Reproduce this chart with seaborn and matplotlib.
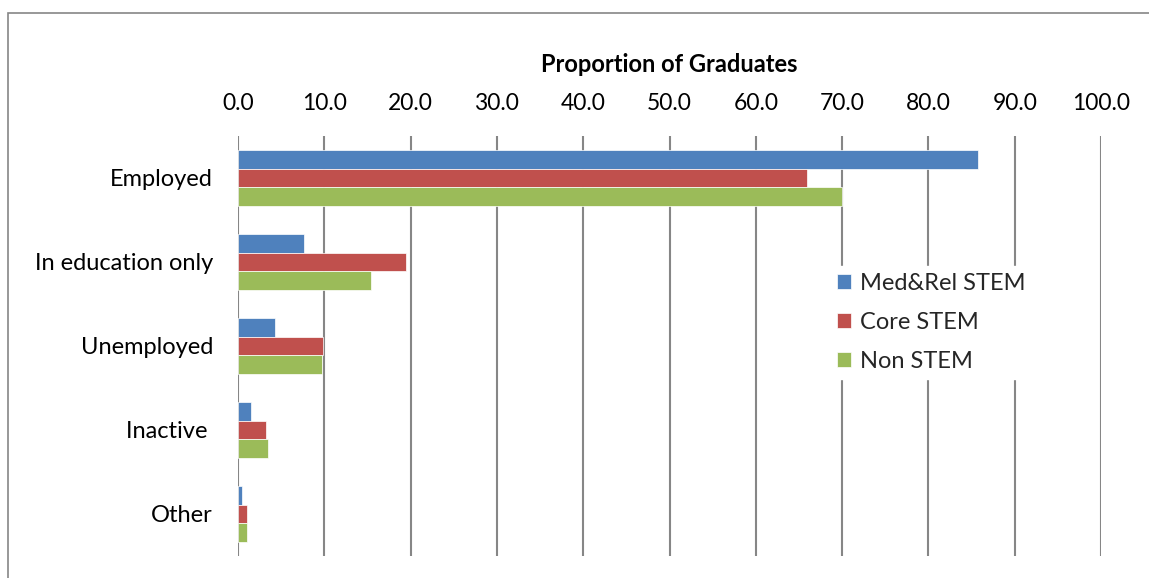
import matplotlib
matplotlib.use("Agg")
import matplotlib.pyplot as plt
import seaborn as sns
import pandas as pd
from matplotlib.patches import Rectangle
from matplotlib.ticker import FormatStrFormatter

categories = ["Employed", "In education only", "Unemployed", "Inactive ", "Other"]
series_names = ["Med&Rel STEM", "Core STEM", "Non STEM"]
med_rel_stem = [85.8, 7.6, 4.3, 1.5, 0.5]
core_stem = [65.9, 19.5, 9.9, 3.3, 1.0]
non_stem = [70.0, 15.4, 9.7, 3.5, 1.1]
x_ticks = [0, 10, 20, 30, 40, 50, 60, 70, 80, 90, 100]
colors = ["#4F81BD", "#C0504D", "#9BBB59"]

rows = []
for name, vals in zip(series_names, [med_rel_stem, core_stem, non_stem]):
    for c, v in zip(categories, vals):
        rows.append({"Category": c, "Series": name, "Value": v})
df = pd.DataFrame(rows)

sns.set_theme(style="white")
plt.rcParams["font.family"] = ["Lato", "DejaVu Sans"]

fig = plt.figure(figsize=(11.49, 5.78), dpi=100)
ax = fig.add_axes([238 / 1149, 22 / 578, 863 / 1149, 420 / 578])

sns.barplot(data=df, y="Category", x="Value", hue="Series", order=categories,
            hue_order=series_names, palette=colors, orient="h", width=0.667,
            saturation=1, ax=ax, zorder=3, edgecolor="white", linewidth=0.5)

ax.set_xlim(0, 100)
ax.set_xticks(x_ticks)
ax.xaxis.set_major_formatter(FormatStrFormatter("%.1f"))
ax.xaxis.tick_top()
ax.xaxis.set_label_position("top")
ax.set_xlabel("Proportion of Graduates", fontsize=17, fontweight="bold", labelpad=15,
              color="black")
ax.set_ylabel("")
ax.tick_params(axis="x", labelsize=16.5, length=0, pad=16, labelcolor="black")
ax.tick_params(axis="y", labelsize=17, length=0, pad=18, labelcolor="black")
ax.grid(axis="x", color="#868686", linewidth=1.5, zorder=0)
ax.set_axisbelow(True)
for s in ax.spines.values():
    s.set_visible(False)

leg = ax.legend(loc="center left", bbox_to_anchor=(0.672, 0.556), frameon=True,
                fontsize=17, handlelength=0.6, handleheight=0.6, handletextpad=0.4,
                labelspacing=0.75, borderpad=0.3, fancybox=False)
leg.get_frame().set_edgecolor("white")
leg.get_frame().set_facecolor("white")
leg.get_frame().set_alpha(1)

fig.patches.append(Rectangle((8 / 1149, -0.1), 1.2, (578 - 13) / 578 + 0.1,
                             transform=fig.transFigure, fill=False,
                             edgecolor="#868686", linewidth=1.2))

fig.savefig("out.png", dpi=100)
